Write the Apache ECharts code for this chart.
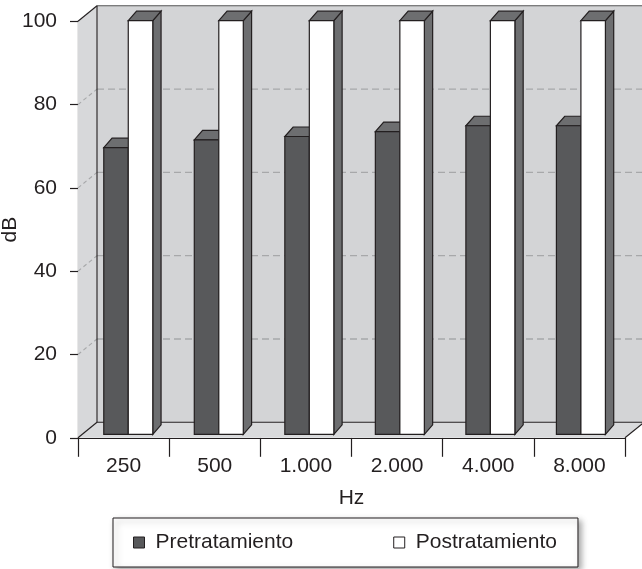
<!DOCTYPE html>
<html>
<head>
<meta charset="utf-8">
<script src="https://cdn.jsdelivr.net/npm/echarts@6/dist/echarts.min.js"></script>
<style>
  html, body { margin: 0; padding: 0; background: #ffffff; }
  #chart { width: 642px; height: 569px; }
</style>
</head>
<body>
<div id="chart"></div>
<script>
// Hearing thresholds per frequency, before and after treatment
const categories = ['250', '500', '1.000', '2.000', '4.000', '8.000'];
const pretratamiento = [69.3, 71.2, 72.0, 73.2, 74.6, 74.6];
const postratamiento = [100, 100, 100, 100, 100, 100];
const yTicks = [0, 20, 40, 60, 80, 100];

const FONT = '"Liberation Sans", Arial, Helvetica, sans-serif';
const FONT_SIZE = 21;
const INK = '#231f20';

// Oblique depth of the chart box (back wall) and of each bar prism
const WALL_DX = 19, WALL_DY = -15.5;
const BAR_DX = 8.3, BAR_DY = -9.5;
// Bars stand slightly behind the front plane
const BAR_SHIFT_X = 5, BAR_SHIFT_Y = -3.5, BAR_SCALE = 0.993;
const BAR_W = 24.5;

const WALL_FILL = '#d3d4d6';
const SIDE_FILL = '#d7d8da';
const FLOOR_FILL = '#d9dadc';
const GRID_DASH = '#a7a8aa';
const DARK_FRONT = '#58595b';
const PRISM_SHADE = '#6d6e70';

function toBarPlane(p, origin) {
  return [origin[0] + (p[0] - origin[0]) * BAR_SCALE + BAR_SHIFT_X,
          origin[1] + (p[1] - origin[1]) * BAR_SCALE + BAR_SHIFT_Y];
}

// Back wall, left side wall, floor and dashed gridlines of the 3D box
function renderBox(params, api) {
  const cs = params.coordSys;
  const xl = cs.x, xr = cs.x + cs.width;
  const y0 = api.coord([0, 0])[1];
  const yTop = api.coord([0, yTicks[yTicks.length - 1]])[1];
  const back = (p) => [p[0] + WALL_DX, p[1] + WALL_DY];
  const line = { stroke: INK, lineWidth: 1.1, fill: null };
  const children = [];

  children.push({
    type: 'polygon',
    shape: { points: [back([xl, yTop]), back([xr, yTop]), back([xr, y0]), back([xl, y0])] },
    style: { fill: WALL_FILL }
  });
  children.push({
    type: 'polygon',
    shape: { points: [[xl, yTop], back([xl, yTop]), back([xl, y0]), [xl, y0]] },
    style: { fill: SIDE_FILL }
  });
  children.push({
    type: 'polygon',
    shape: { points: [[xl, y0], [xr, y0], back([xr, y0]), back([xl, y0])] },
    style: { fill: FLOOR_FILL }
  });

  yTicks.forEach(function (v) {
    if (v === yTicks[0] || v === yTicks[yTicks.length - 1]) return;
    const y = api.coord([0, v])[1];
    const a = back([xl, y]), b = back([xr, y]);
    children.push({
      type: 'line',
      shape: { x1: a[0], y1: a[1], x2: b[0], y2: b[1] },
      style: { stroke: GRID_DASH, lineWidth: 1.3, lineDash: [7, 4] }
    });
    children.push({
      type: 'line',
      shape: { x1: xl, y1: y, x2: a[0], y2: a[1] },
      style: { stroke: GRID_DASH, lineWidth: 1.1, lineDash: [4, 3] }
    });
  });

  const tl = back([xl, yTop]), tr = back([xr, yTop]);
  const bl = back([xl, y0]), br = back([xr, y0]);
  children.push({ type: 'line', shape: { x1: xl, y1: yTop, x2: tl[0], y2: tl[1] }, style: line });
  children.push({ type: 'line', shape: { x1: tl[0], y1: tl[1], x2: tr[0], y2: tr[1] }, style: { stroke: '#555', lineWidth: 1.1 } });
  children.push({ type: 'line', shape: { x1: tl[0], y1: tl[1], x2: bl[0], y2: bl[1] }, style: line });
  children.push({ type: 'line', shape: { x1: bl[0], y1: bl[1], x2: br[0], y2: br[1] }, style: line });
  children.push({ type: 'line', shape: { x1: xl, y1: y0, x2: bl[0], y2: bl[1] }, style: line });
  children.push({ type: 'line', shape: { x1: xr, y1: y0, x2: br[0], y2: br[1] }, style: line });

  return { type: 'group', children: children };
}

// Prism bar: front face, top face and (for the rear bar of each pair) the right side face
function barRenderer(slot, frontFill) {
  return function (params, api) {
    const cs = params.coordSys;
    const origin = [cs.x, api.coord([0, 0])[1]];
    const ci = api.value(0), v = api.value(1);
    const top = toBarPlane(api.coord([ci, v]), origin);
    const bot = toBarPlane(api.coord([ci, 0]), origin);
    const x0 = slot === 0 ? top[0] - BAR_W : top[0];
    const x1 = x0 + BAR_W;
    const yt = top[1], yb = bot[1];
    const edge = { stroke: INK, lineWidth: 1.2 };
    const children = [];
    if (slot === 1) {
      children.push({
        type: 'polygon',
        shape: { points: [[x1, yt], [x1 + BAR_DX, yt + BAR_DY], [x1 + BAR_DX, yb + BAR_DY], [x1, yb]] },
        style: Object.assign({ fill: PRISM_SHADE }, edge)
      });
    }
    children.push({
      type: 'polygon',
      shape: { points: [[x0, yt], [x1, yt], [x1 + BAR_DX, yt + BAR_DY], [x0 + BAR_DX, yt + BAR_DY]] },
      style: Object.assign({ fill: PRISM_SHADE }, edge)
    });
    children.push({
      type: 'rect',
      shape: { x: x0, y: yt, width: BAR_W, height: yb - yt },
      style: Object.assign({ fill: frontFill }, edge)
    });
    return { type: 'group', children: children };
  };
}

const chart = echarts.init(document.getElementById('chart'), null, { renderer: 'canvas' });

chart.setOption({
  animation: false,
  backgroundColor: '#ffffff',
  textStyle: { fontFamily: FONT, color: INK },
  grid: { left: 78, right: 17, top: 21.3, bottom: 131.2, containLabel: false, outerBoundsMode: 'none' },
  xAxis: {
    type: 'category',
    data: categories,
    boundaryGap: true,
    name: 'Hz',
    nameLocation: 'middle',
    nameGap: 50,
    nameMoveOverlap: false,
    nameTextStyle: { fontFamily: FONT, fontSize: FONT_SIZE, color: INK },
    axisLine: { show: true, lineStyle: { color: INK, width: 1.2 } },
    axisTick: { show: true, length: 19, interval: 0, lineStyle: { color: INK, width: 1.2 } },
    axisLabel: { margin: 18, fontFamily: FONT, fontSize: FONT_SIZE, color: INK, interval: 0 },
    splitLine: { show: false }
  },
  yAxis: {
    type: 'value',
    min: 0,
    max: 100,
    interval: 20,
    name: 'dB',
    nameLocation: 'middle',
    nameGap: 57,
    nameMoveOverlap: false,
    nameTextStyle: { fontFamily: FONT, fontSize: FONT_SIZE, color: INK },
    axisLine: { show: true, lineStyle: { color: INK, width: 1.2 } },
    axisTick: { show: true, length: 8, lineStyle: { color: INK, width: 1.2 } },
    axisLabel: { margin: 21, fontFamily: FONT, fontSize: FONT_SIZE, color: INK },
    splitLine: { show: false }
  },
  legend: {
    left: 113,
    top: 518,
    padding: [14, 21, 14, 20],
    itemGap: 100,
    itemWidth: 11,
    itemHeight: 11,
    backgroundColor: '#ffffff',
    borderColor: INK,
    borderWidth: 1,
    shadowColor: 'rgba(0,0,0,0.35)',
    shadowBlur: 6,
    shadowOffsetX: 3,
    shadowOffsetY: 3,
    selectedMode: false,
    textStyle: { fontFamily: FONT, fontSize: FONT_SIZE, color: INK, padding: [0, 0, 0, 6] },
    data: [
      { name: 'Pretratamiento', icon: 'rect', itemStyle: { color: DARK_FRONT, borderColor: INK, borderWidth: 1 } },
      { name: 'Postratamiento', icon: 'rect', itemStyle: { color: '#ffffff', borderColor: INK, borderWidth: 1 } }
    ]
  },
  series: [
    {
      type: 'custom',
      name: 'box',
      silent: true,
      z: 1,
      clip: false,
      renderItem: renderBox,
      data: [[0, 0]]
    },
    {
      type: 'custom',
      name: 'Pretratamiento',
      z: 3,
      clip: false,
      itemStyle: { color: DARK_FRONT },
      renderItem: barRenderer(0, DARK_FRONT),
      data: categories.map(function (c, i) { return [i, pretratamiento[i]]; })
    },
    {
      type: 'custom',
      name: 'Postratamiento',
      z: 4,
      clip: false,
      itemStyle: { color: '#ffffff' },
      renderItem: barRenderer(1, '#ffffff'),
      data: categories.map(function (c, i) { return [i, postratamiento[i]]; })
    }
  ]
});
</script>
</body>
</html>
